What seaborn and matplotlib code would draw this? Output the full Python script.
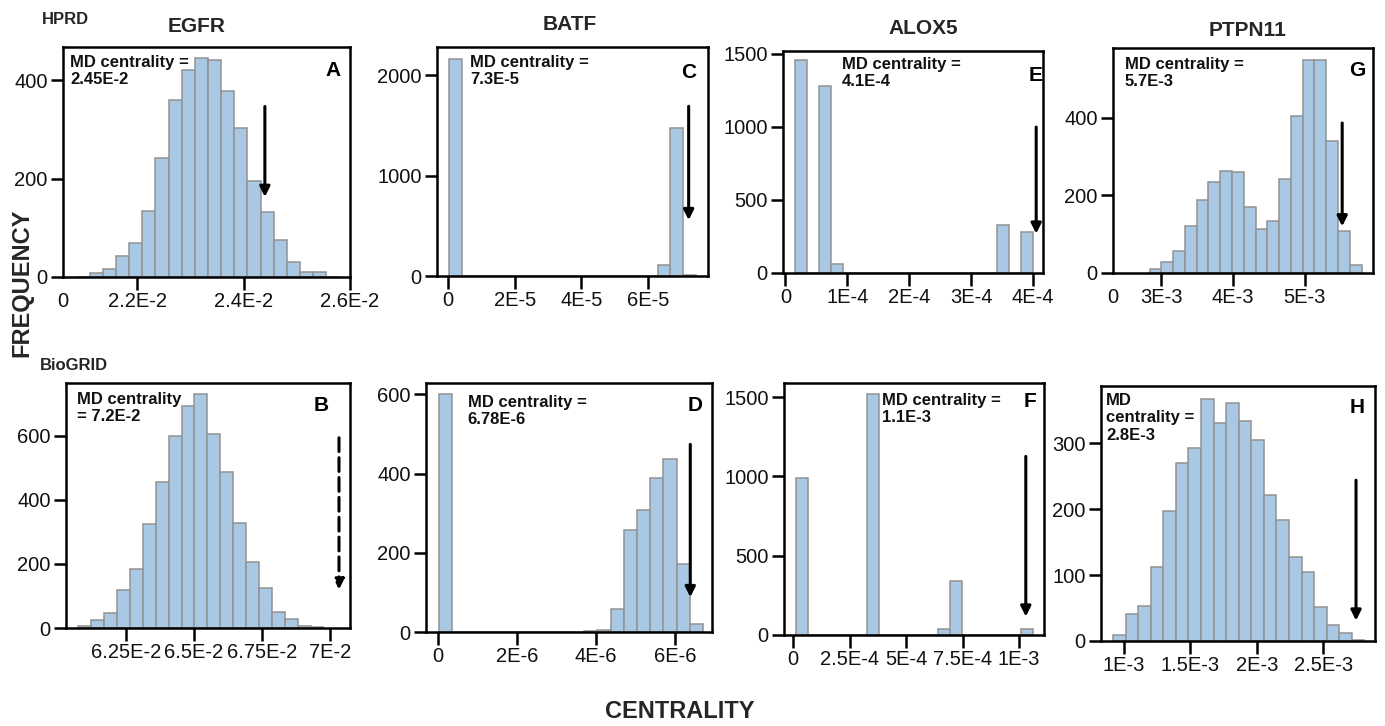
import numpy as np
import pandas as pd
import matplotlib
matplotlib.use("Agg")
import matplotlib.pyplot as plt
import seaborn as sns

# ---------------- data ----------------
genes = ["EGFR", "BATF", "ALOX5", "PTPN11"]
databases = ["HPRD", "BioGRID"]

# HPRD row
egfr_hprd_edges = [0.02086, 0.021107, 0.021354, 0.021601, 0.021848, 0.022095, 0.022342,
                   0.022589, 0.022836, 0.023083, 0.02333, 0.023577, 0.023824, 0.024071,
                   0.024318, 0.024565, 0.024812, 0.025059, 0.025306, 0.025553, 0.0258]
egfr_hprd_counts = [1, 8, 17, 42, 69, 134, 242, 360, 422, 445, 442, 379, 304, 195, 132,
                    76, 30, 10, 11, 1]

batf_hprd_edges = [3e-7, 4.1e-6, 6.3e-5, 6.67e-5, 7.05e-5, 7.43e-5]
batf_hprd_counts = [2166, 0, 109, 1476, 5]

alox5_hprd_edges = [1.5e-5, 3.49e-5, 5.37e-5, 7.36e-5, 9.29e-5, 3.42e-4, 3.613e-4, 3.81e-4, 4.0e-4]
alox5_hprd_counts = [1454, 0, 1276, 64, 0, 326, 0, 280]

ptpn11_hprd_edges = [2.838e-3, 3.002e-3, 3.166e-3, 3.330e-3, 3.494e-3, 3.658e-3, 3.822e-3,
                     3.986e-3, 4.150e-3, 4.314e-3, 4.478e-3, 4.642e-3, 4.806e-3, 4.970e-3,
                     5.134e-3, 5.298e-3, 5.462e-3, 5.626e-3, 5.790e-3]
ptpn11_hprd_counts = [11, 28, 56, 120, 187, 235, 263, 260, 171, 113, 135, 243, 405, 549,
                      547, 340, 109, 20]

# BioGRID row
egfr_bio_edges = [0.060762, 0.061236, 0.061709, 0.062183, 0.062656, 0.063130, 0.063603,
                  0.064077, 0.064550, 0.065024, 0.065497, 0.065971, 0.066444, 0.066918,
                  0.067391, 0.067865, 0.068338, 0.068812, 0.069285, 0.069759]
egfr_bio_counts = [5, 24, 47, 120, 185, 324, 456, 600, 691, 730, 605, 488, 328, 207, 125,
                   49, 28, 7, 4]

batf_bio_edges = [0.033e-6, 0.367e-6, 0.701e-6, 1.035e-6, 1.369e-6, 1.703e-6, 2.037e-6,
                  2.371e-6, 2.705e-6, 3.039e-6, 3.373e-6, 3.707e-6, 4.041e-6, 4.375e-6,
                  4.709e-6, 5.043e-6, 5.377e-6, 5.711e-6, 6.045e-6, 6.379e-6, 6.713e-6]
batf_bio_counts = [600, 0, 0, 0, 0, 0, 0, 0, 0, 0, 1, 2, 6, 59, 257, 309, 390, 437, 173, 21]

alox5_bio_edges = [1.18e-5, 6.64e-5, 3.245e-4, 3.79e-4, 6.42e-4, 6.93e-4, 7.48e-4, 1.0074e-3, 1.062e-3]
alox5_bio_counts = [989, 0, 1520, 0, 36, 343, 0, 36]

ptpn11_bio_edges = [0.920e-3, 1.0144e-3, 1.1088e-3, 1.2032e-3, 1.2976e-3, 1.392e-3, 1.4864e-3,
                    1.5808e-3, 1.6752e-3, 1.7696e-3, 1.864e-3, 1.9584e-3, 2.0528e-3,
                    2.1472e-3, 2.2416e-3, 2.336e-3, 2.4304e-3, 2.5248e-3, 2.6192e-3,
                    2.7136e-3, 2.808e-3]
ptpn11_bio_counts = [9, 41, 53, 113, 197, 270, 293, 368, 331, 361, 334, 305, 221, 184, 127,
                     104, 52, 25, 12, 2]

panel_letters = ["A", "C", "E", "G", "B", "D", "F", "H"]
md_texts = ["MD centrality =\n2.45E-2", "MD centrality =\n7.3E-5", "MD centrality =\n4.1E-4",
            "MD centrality =\n5.7E-3", "MD centrality\n= 7.2E-2", "MD centrality =\n6.78E-6",
            "MD centrality =\n1.1E-3", "MD\ncentrality =\n2.8E-3"]

# observed centrality markers (arrow x) and arrow extent (y start, y tip)
arrow_x = [0.0244, 7.22e-5, 4.05e-4, 5.52e-3, 0.07033, 6.39e-6, 1.03e-3, 2.745e-3]
arrow_y_start = [347, 1691, 998, 386, 593, 474, 1126, 244]
arrow_y_tip = [163, 557, 269, 120, 120, 88, 116, 31]
arrow_dashed = [False, False, False, False, True, False, False, False]

x_ticks = [[0.022, 0.024, 0.026], [0, 2e-5, 4e-5, 6e-5], [0, 1e-4, 2e-4, 3e-4, 4e-4],
           [3e-3, 4e-3, 5e-3], [0.0625, 0.065, 0.0675, 0.07], [0, 2e-6, 4e-6, 6e-6],
           [0, 2.5e-4, 5e-4, 7.5e-4, 1e-3], [1e-3, 1.5e-3, 2e-3, 2.5e-3]]
x_ticklabels = [["2.2E-2", "2.4E-2", "2.6E-2"], ["0", "2E-5", "4E-5", "6E-5"],
                ["0", "1E-4", "2E-4", "3E-4", "4E-4"], ["3E-3", "4E-3", "5E-3"],
                ["6.25E-2", "6.5E-2", "6.75E-2", "7E-2"], ["0", "2E-6", "4E-6", "6E-6"],
                ["0", "2.5E-4", "5E-4", "7.5E-4", "1E-3"], ["1E-3", "1.5E-3", "2E-3", "2.5E-3"]]
broken_zero = [True, False, False, True, False, False, False, False]
y_ticks = [[0, 200, 400], [0, 1000, 2000], [0, 500, 1000, 1500], [0, 200, 400],
           [0, 200, 400, 600], [0, 200, 400, 600], [0, 500, 1000, 1500], [0, 100, 200, 300]]
x_limits = [(0.020606, 0.026), (-3.3e-6, 7.8e-5), (-3.8e-6, 4.16e-4), (2.329e-3, 5.949e-3),
            (0.06031, 0.070734), (-0.3e-6, 6.94e-6), (-4.1e-5, 1.1106e-3), (0.83e-3, 2.8875e-3)]
y_limits = [(0, 468), (0, 2282), (0, 1518), (0, 579), (0, 764), (0, 629), (0, 1589), (0, 387)]

all_edges = [egfr_hprd_edges, batf_hprd_edges, alox5_hprd_edges, ptpn11_hprd_edges,
             egfr_bio_edges, batf_bio_edges, alox5_bio_edges, ptpn11_bio_edges]
all_counts = [egfr_hprd_counts, batf_hprd_counts, alox5_hprd_counts, ptpn11_hprd_counts,
              egfr_bio_counts, batf_bio_counts, alox5_bio_counts, ptpn11_bio_counts]

# ---------------- layout (pixels) ----------------
W, H = 1385, 726
boxes = [(63, 350, 47, 277), (437, 708, 47, 276), (783, 1043, 51, 273), (1113, 1373, 48, 273),
         (66, 350, 383, 628), (426, 712, 383, 632), (784, 1044, 383, 635), (1101, 1375, 386, 641)]
md_pos = [(0.024, 0.965), (0.122, 0.965), (0.227, 0.975), (0.046, 0.96),
          (0.039, 0.963), (0.146, 0.952), (0.377, 0.96), (0.018, 0.973)]
letter_pos = [(0.94, 0.90), (0.93, 0.89), (0.97, 0.89), (0.94, 0.90),
              (0.90, 0.91), (0.94, 0.91), (0.946, 0.925), (0.934, 0.914)]
gene_pos = [(197, 27), (570, 25), (923, 29), (1248, 30)]

BAR = "#a9c8e4"
EDGE = "#929292"

sns.set_theme(style="ticks")
plt.rcParams["font.family"] = ["Liberation Sans", "DejaVu Sans"]
TICKFONT = ["Noto Sans Condensed", "DejaVu Sans Condensed", "Liberation Sans Narrow",
            "Liberation Sans"]

fig = plt.figure(figsize=(W / 100, H / 100), dpi=100)
fig.patch.set_facecolor("white")


def px(x, y):
    return x / W, 1 - y / H


for i in range(8):
    l, r, t, b = boxes[i]
    ax = fig.add_axes([l / W, 1 - b / H, (r - l) / W, (b - t) / H])
    edges = [float(e) for e in all_edges[i]]
    counts = [float(c) for c in all_counts[i]]
    centers = [(edges[k] + edges[k + 1]) / 2 for k in range(len(counts))]
    df = pd.DataFrame({"centrality": centers, "frequency": counts})
    sns.histplot(data=df, x="centrality", weights="frequency", bins=edges, ax=ax,
                 color=BAR, edgecolor=EDGE, linewidth=1.1, alpha=1)
    ax.set_xlabel("")
    ax.set_ylabel("")
    ax.set_xlim(*x_limits[i])
    ax.set_ylim(*y_limits[i])

    xt = list(x_ticks[i])
    xl = list(x_ticklabels[i])
    if broken_zero[i]:
        xt = [x_limits[i][0]] + xt
        xl = ["0"] + xl
    ax.set_xticks(xt)
    ax.set_xticklabels(xl)
    ax.set_yticks(y_ticks[i])
    ax.set_yticklabels([str(v) for v in y_ticks[i]])
    for lab in ax.get_xticklabels() + ax.get_yticklabels():
        lab.set_family(TICKFONT)
        lab.set_stretch("condensed")
        lab.set_fontsize(14.5)
        lab.set_color("#111111")
    ax.tick_params(axis="both", direction="out", length=9, width=1.8, color="black", pad=2)
    if broken_zero[i]:
        ax.xaxis.get_major_ticks()[0].tick1line.set_visible(False)
    for s in ax.spines.values():
        s.set_visible(True)
        s.set_color("black")
        s.set_linewidth(1.8)
    ax.set_facecolor("white")
    ax.grid(False)

    ax.text(md_pos[i][0], md_pos[i][1], md_texts[i], transform=ax.transAxes,
            ha="left", va="top", fontsize=12, fontweight="bold", color="#111111",
            linespacing=1.2)
    ax.text(letter_pos[i][0], letter_pos[i][1], panel_letters[i], transform=ax.transAxes,
            ha="center", va="center", fontsize=15, fontweight="bold", color="black")

    ls = (0, (4.5, 2.0)) if arrow_dashed[i] else "-"
    ax.annotate("", xy=(arrow_x[i], arrow_y_tip[i]), xytext=(arrow_x[i], arrow_y_start[i]),
                arrowprops=dict(arrowstyle="-|>", color="black", lw=2.2, linestyle=ls,
                                mutation_scale=15, shrinkA=0, shrinkB=0))

for g, (gx, gy) in zip(genes, gene_pos):
    fig.text(*px(gx, gy), g, ha="center", va="center", fontsize=15, fontweight="bold")

fig.text(*px(42, 20), databases[0], ha="left", va="center", fontsize=12, fontweight="bold")
fig.text(*px(40, 366), databases[1], ha="left", va="center", fontsize=12, fontweight="bold")
fig.text(*px(22, 283), "FREQUENCY", ha="center", va="center", rotation=90,
         fontsize=17, fontweight="bold")
fig.text(*px(680, 712), "CENTRALITY", ha="center", va="center",
         fontsize=17, fontweight="bold")

fig.savefig("out.png", dpi=100, facecolor="white")
